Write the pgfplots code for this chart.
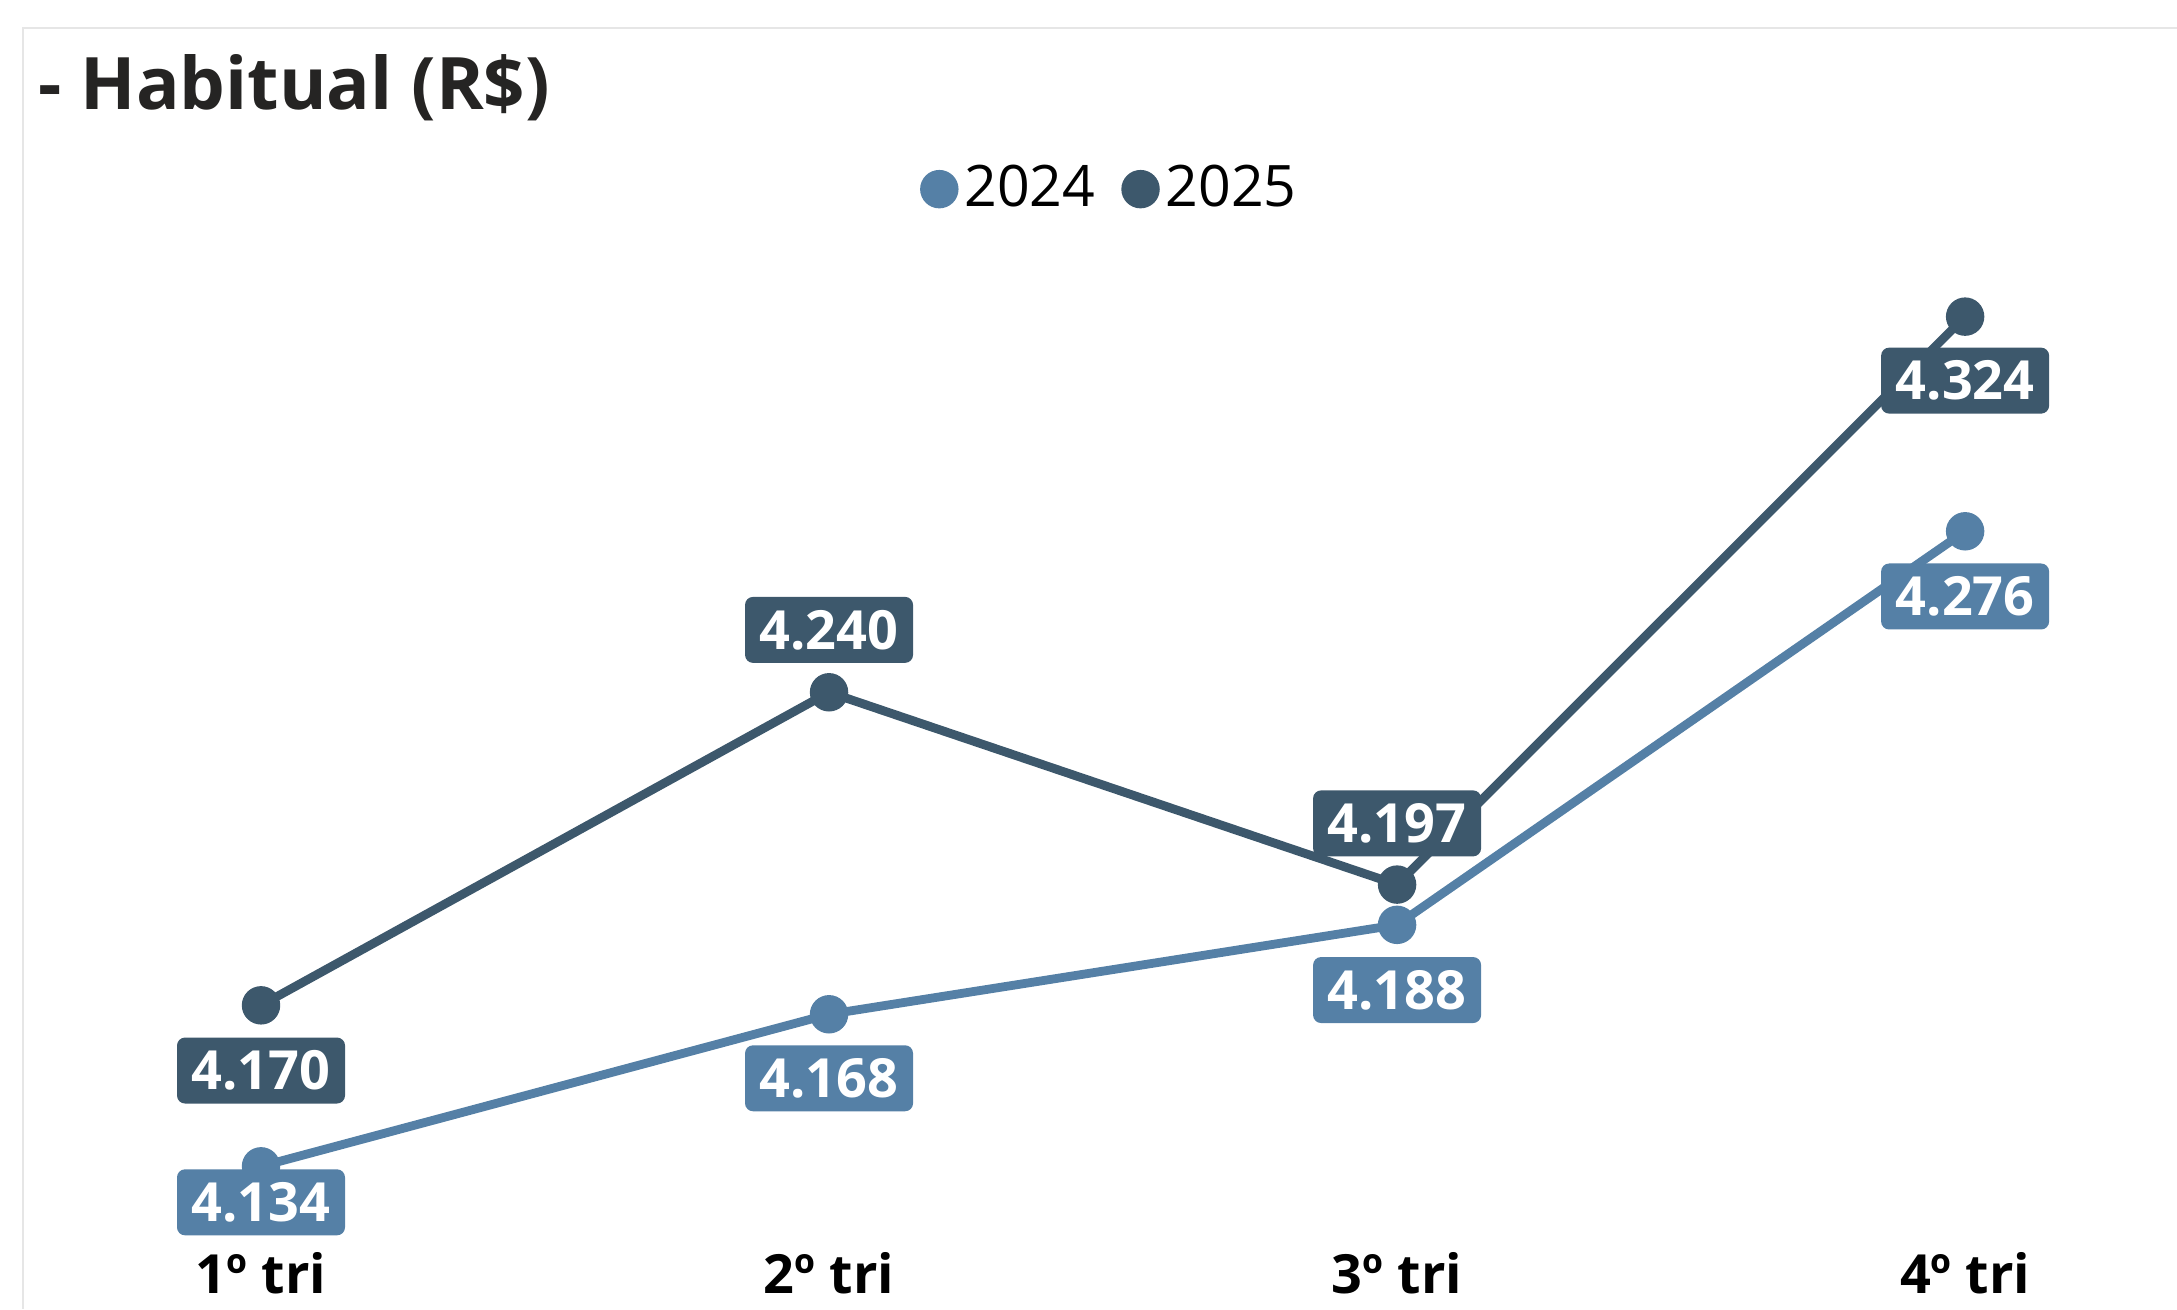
\documentclass[border=0pt]{standalone}
\usepackage{fontspec}
\setmainfont{Open Sans}
\usepackage{pgfplots}
\usepackage{pgfplotstable}
\pgfplotsset{compat=1.18}
\definecolor{c24}{HTML}{5580A6}
\definecolor{c25}{HTML}{3D586C}
\definecolor{ttl}{HTML}{252423}
\definecolor{brd}{HTML}{E6E6E6}
\pgfplotstableread{
x y off lab
0 4134 -9.0 4.134
1 4168 -16.0 4.168
2 4188 -16.3 4.188
3 4276 -16.3 4.276
}\dA
\pgfplotstableread{
x y off lab
0 4170 -16.3 4.170
1 4240 15.6 4.240
2 4197 15.3 4.197
3 4324 -16.0 4.324
}\dB
\begin{document}
\begin{tikzpicture}
\useasboundingbox (0,0) rectangle (544.25pt,327.25pt);
\draw[brd, line width=0.6pt] (5.7pt,0) -- (5.7pt,320.25pt) -- (544.25pt,320.25pt);
\begin{axis}[
  at={(0,0)}, anchor=south west, scale only axis,
  width=544.25pt, height=327.25pt,
  xmin=-0.4595, xmax=3.373, ymin=4102.1, ymax=4394.8,
  clip=false, axis line style={draw=none},
  ytick=\empty, xtick={0,1,2,3},
  xticklabels={1º tri,2º tri,3º tri,4º tri},
  major tick length=0pt,
  xticklabel style={anchor=center, yshift=9pt, font=\fontsize{13.5}{16}\selectfont\bfseries, text=black},
  legend columns=2,
  legend style={at={(0.5105,0.8555)}, anchor=center, draw=none, fill=none,
    font=\fontsize{14.3}{17}\selectfont,
    /tikz/every even column/.append style={column sep=5pt},
    nodes={inner sep=1.5pt}},
  legend image code/.code={\fill[#1] (0pt,0pt) circle (3.7pt);},
  point meta=explicit symbolic,
  nodes near coords,
  visualization depends on={\thisrow{off}\as\off},
  every node near coord/.append style={anchor=center, yshift=\off,
    font=\fontsize{13.5}{16}\selectfont\bfseries, text=white,
    rounded corners=2pt, minimum width=42pt, minimum height=16.5pt, inner sep=0pt},
]
\addplot[c24, line width=2.2pt, mark=*, mark size=3.7pt, mark options={solid, fill=c24},
  every node near coord/.append style={fill=c24}] table[x=x, y=y, meta=lab] {\dA};
\addlegendentry{2024}
\addplot[c25, line width=2.2pt, mark=*, mark size=3.7pt, mark options={solid, fill=c25},
  every node near coord/.append style={fill=c25}] table[x=x, y=y, meta=lab] {\dB};
\addlegendentry{2025}
\end{axis}
\node[anchor=base west, inner sep=0pt, font=\fontsize{18.1}{22}\selectfont\bfseries, text=ttl] at (9.5pt,299.75pt) {- Habitual (R\$)};
\end{tikzpicture}
\end{document}
